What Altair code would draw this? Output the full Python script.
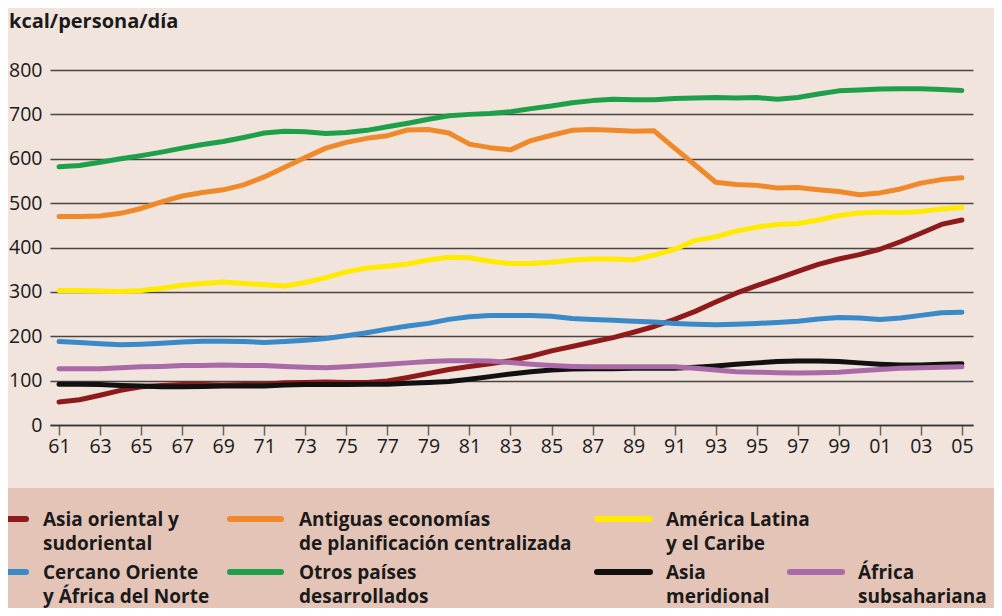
import altair as alt
import pandas as pd

YEARS = list(range(1961, 2006))

SERIES = [
    "Asia oriental y sudoriental",
    "Antiguas economías de planificación centralizada",
    "América Latina y el Caribe",
    "Cercano Oriente y África del Norte",
    "Otros países desarrollados",
    "Asia meridional",
    "África subsahariana",
]

ASIA_ORIENTAL = [52, 57, 67, 78, 86, 89, 91, 91, 90, 91, 92, 95, 96, 97, 96, 96, 99, 107, 116, 125,
                 132, 138, 145, 155, 167, 177, 187, 197, 209, 222, 238, 256, 277, 297, 314, 330, 346,
                 362, 374, 384, 396, 413, 432, 452, 462]
ANTIGUAS = [470, 470, 471, 477, 488, 503, 516, 524, 530, 541, 559, 581, 603, 624, 637, 646, 652, 665,
            666, 658, 633, 625, 620, 641, 653, 664, 666, 664, 662, 663, 624, 586, 547, 542, 540, 534,
            535, 530, 526, 519, 523, 532, 545, 553, 557]
AMERICA_LATINA = [303, 303, 302, 301, 303, 308, 315, 319, 322, 319, 316, 313, 321, 332, 345, 354, 358,
                  363, 372, 378, 377, 369, 364, 364, 367, 372, 374, 374, 372, 383, 396, 416, 424, 437,
                  446, 452, 454, 462, 472, 478, 480, 479, 481, 487, 490]
CERCANO_ORIENTE = [188, 186, 183, 181, 182, 184, 187, 189, 189, 188, 186, 188, 191, 195, 201, 208, 216,
                   223, 229, 238, 244, 247, 247, 247, 245, 240, 238, 236, 234, 232, 229, 227, 226, 227,
                   229, 231, 234, 239, 242, 241, 238, 241, 247, 253, 254]
OTROS_DESARROLLADOS = [582, 585, 592, 600, 607, 615, 624, 632, 639, 648, 658, 662, 661, 657, 659, 664,
                       672, 680, 689, 697, 700, 702, 706, 713, 719, 726, 731, 734, 733, 733, 736, 737,
                       738, 737, 738, 734, 738, 746, 753, 755, 757, 758, 758, 756, 754]
ASIA_MERIDIONAL = [92, 92, 91, 89, 88, 86, 86, 87, 88, 88, 88, 90, 91, 91, 91, 92, 92, 94, 96, 98, 103,
                   109, 115, 120, 124, 126, 127, 127, 128, 128, 128, 130, 133, 137, 140, 143, 144, 144,
                   143, 140, 137, 135, 135, 137, 138]
AFRICA_SUBSAHARIANA = [127, 127, 127, 129, 131, 132, 134, 134, 135, 134, 134, 132, 130, 129, 131, 134,
                       137, 140, 143, 145, 145, 144, 141, 137, 134, 132, 131, 131, 131, 131, 131, 128,
                       124, 120, 119, 118, 117, 118, 119, 122, 125, 128, 129, 130, 131]

VALUES = [ASIA_ORIENTAL, ANTIGUAS, AMERICA_LATINA, CERCANO_ORIENTE, OTROS_DESARROLLADOS,
          ASIA_MERIDIONAL, AFRICA_SUBSAHARIANA]

LEGEND_LABELS = [
    "Asia oriental y\nsudoriental",
    "Antiguas economías\nde planificación centralizada",
    "América Latina\ny el Caribe",
    "Cercano Oriente\ny África del Norte",
    "Otros países\ndesarrollados",
    "Asia\nmeridional",
    "África\nsubsahariana",
]

X_TICKS = list(range(1961, 2006, 2))
Y_TICKS = list(range(0, 801, 100))

COLORS = ["#8f1a1c", "#f0892a", "#ffea00", "#3a89c9", "#1ea04b", "#111111", "#a96aa7"]
DRAW_ORDER = [4, 1, 2, 3, 6, 5, 0]

rows = []
for name, vals in zip(SERIES, VALUES):
    for yr, v in zip(YEARS, vals):
        rows.append({"year": yr, "value": v, "serie": name})
df = pd.DataFrame(rows)
df["order"] = df["serie"].map({SERIES[i]: k for k, i in enumerate(DRAW_ORDER)})

FONT = "Open Sans"
BG = "#f0e4dc"
LEG_BG = "#e3c4b6"
W, H = 923, 355
PAD = {"left": 42, "top": 62, "right": 21, "bottom": 183}

x_scale = alt.Scale(domain=[1960.56, 2005.54], nice=False, zero=False)
y_scale = alt.Scale(domain=[0, 800], nice=False)

lines = alt.Chart(df).mark_line(strokeWidth=5, strokeCap="round", strokeJoin="round").encode(
    x=alt.X("year:Q", scale=x_scale,
            axis=alt.Axis(values=X_TICKS, title=None, grid=False,
                          labelExpr="substring(toString(datum.value), 2, 4)",
                          labelFont=FONT, labelFontSize=19.5, labelColor="#1a1a1a",
                          labelPadding=2, tickSize=10, tickColor="#6b6560", tickWidth=1.5,
                          domainColor="#333333", domainWidth=1.5)),
    y=alt.Y("value:Q", scale=y_scale,
            axis=alt.Axis(values=Y_TICKS, title=None, grid=True, gridColor="#4a4542",
                          gridWidth=1.3, domain=False, ticks=False, labelPadding=8,
                          labelFont=FONT, labelFontSize=19.5, labelColor="#1a1a1a")),
    color=alt.Color("serie:N", scale=alt.Scale(domain=SERIES, range=COLORS), legend=None),
    detail="serie:N",
    order=alt.Order("order:Q"),
)

one = alt.Data(values=[{}])

title = alt.Chart(one).mark_text(
    text="kcal/persona/día", align="left", baseline="middle", font=FONT,
    fontSize=20, fontWeight="bold", color="#1a1a1a"
).encode(x=alt.value(-41), y=alt.value(-48))

legend_bg = alt.Chart(one).mark_rect(color=LEG_BG).encode(
    x=alt.value(-PAD["left"]), x2=alt.value(W + PAD["right"]),
    y=alt.value(418), y2=alt.value(H + PAD["bottom"] + 2)
)

# legend layout: (line x0, line x1, text x) per column, (line y, text baseline y) per row
COL_X = [(-44, -24, -7), (180, 231, 249), (547, 600, 616), (740, 792, 808)]
ROW_Y = [(449, 456), (502, 509)]
SLOTS = [(0, 0), (0, 1), (0, 2), (1, 0), (1, 1), (1, 2), (1, 3)]

legend_layers = []
for i, (r, c) in enumerate(SLOTS):
    x0, x1, tx = COL_X[c]
    ly, ty = ROW_Y[r]
    legend_layers.append(
        alt.Chart(one).mark_rule(strokeWidth=6, strokeCap="round", color=COLORS[i]).encode(
            x=alt.value(x0), x2=alt.value(x1), y=alt.value(ly))
    )
    legend_layers.append(
        alt.Chart(one).mark_text(
            text=LEGEND_LABELS[i], align="left", baseline="alphabetic", lineBreak="\n",
            lineHeight=24, font=FONT, fontSize=19, fontWeight="bold", color="#1a1a1a"
        ).encode(x=alt.value(tx), y=alt.value(ty))
    )

chart = alt.layer(legend_bg, lines, title, *legend_layers).properties(
    width=W, height=H,
    autosize=alt.AutoSizeParams(type="none"),
    padding=PAD,
    background=BG,
).configure_view(stroke=None)

chart.save("out.html", embed_options={"renderer": "svg", "actions": False})
